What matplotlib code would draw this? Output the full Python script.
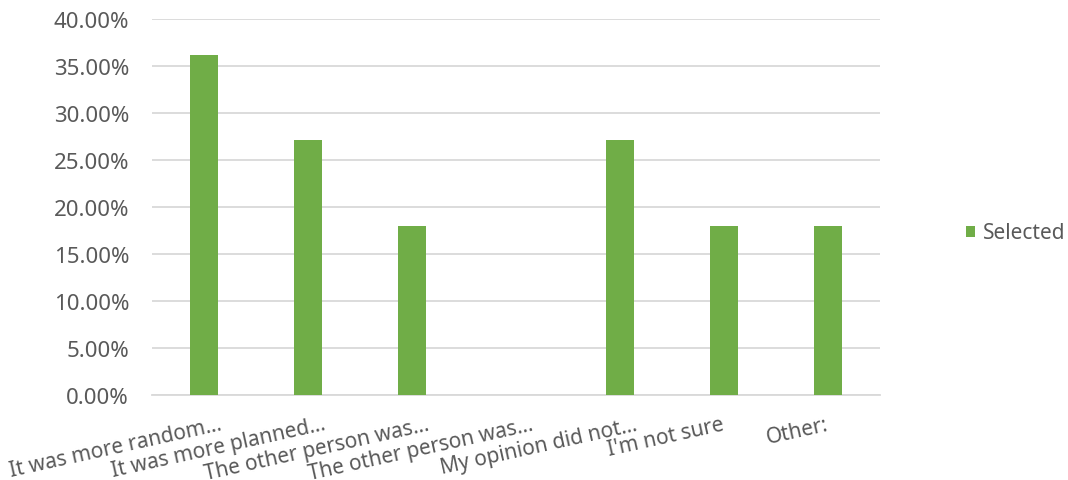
import matplotlib
matplotlib.use("Agg")
import matplotlib.pyplot as plt
import matplotlib.transforms as mtrans
from matplotlib.ticker import FuncFormatter, MultipleLocator
from matplotlib.patches import Patch

plt.rcParams['font.family'] = ['Noto Sans', 'DejaVu Sans']

categories = ["It was more random…", "It was more planned…", "The other person was…",
              "The other person was…", "My opinion did not…", "I'm not sure", "Other:"]
selected = [36.1, 27.05, 17.9, 0.0, 27.05, 17.9, 17.9]
series_name = "Selected"

green = "#70AD47"
text_color = "#595959"
grid_color = "#D9D9D9"

fig = plt.figure(figsize=(10.68, 4.81), dpi=100)
ax = fig.add_axes([152/1068, 1-395.7/481, 728/1068, 376/481])

x = list(range(len(categories)))
ax.bar(x, selected, width=0.27, color=green, zorder=3)

ax.set_xlim(-0.5, len(categories)-0.5)
ax.set_ylim(0, 40)
ax.yaxis.set_major_locator(MultipleLocator(5))
ax.yaxis.set_major_formatter(FuncFormatter(lambda v, p: f"{v:.2f}%"))
ax.grid(axis='y', color=grid_color, linewidth=1.3, zorder=0)
ax.set_axisbelow(True)
for s in ['top', 'right', 'left']:
    ax.spines[s].set_visible(False)
ax.spines['bottom'].set_color(grid_color)
ax.spines['bottom'].set_linewidth(1.3)

ax.tick_params(axis='y', length=0, pad=16.5, labelsize=16, labelcolor=text_color)
ax.tick_params(axis='x', length=0, pad=21, labelsize=15, labelcolor=text_color)
ax.set_xticks(x)
ax.set_xticklabels(categories, rotation=12.5, ha='right', va='center', rotation_mode='anchor')

# Excel anchors the label end before the ellipsis: shift truncated labels right
for lbl in ax.get_xticklabels():
    if lbl.get_text().endswith("…"):
        lbl.set_transform(lbl.get_transform() +
                          mtrans.ScaledTranslation(17/100, 0, fig.dpi_scale_trans))

handle = Patch(facecolor=green, edgecolor='none')
fig.legend([handle], [series_name], loc='center left', bbox_to_anchor=(966/1068, 1-234/481),
           frameon=False, fontsize=15, labelcolor=text_color, handlelength=0.43,
           handleheight=0.43, handletextpad=0.4, borderpad=0, borderaxespad=0)

fig.savefig("out.png", dpi=100)
